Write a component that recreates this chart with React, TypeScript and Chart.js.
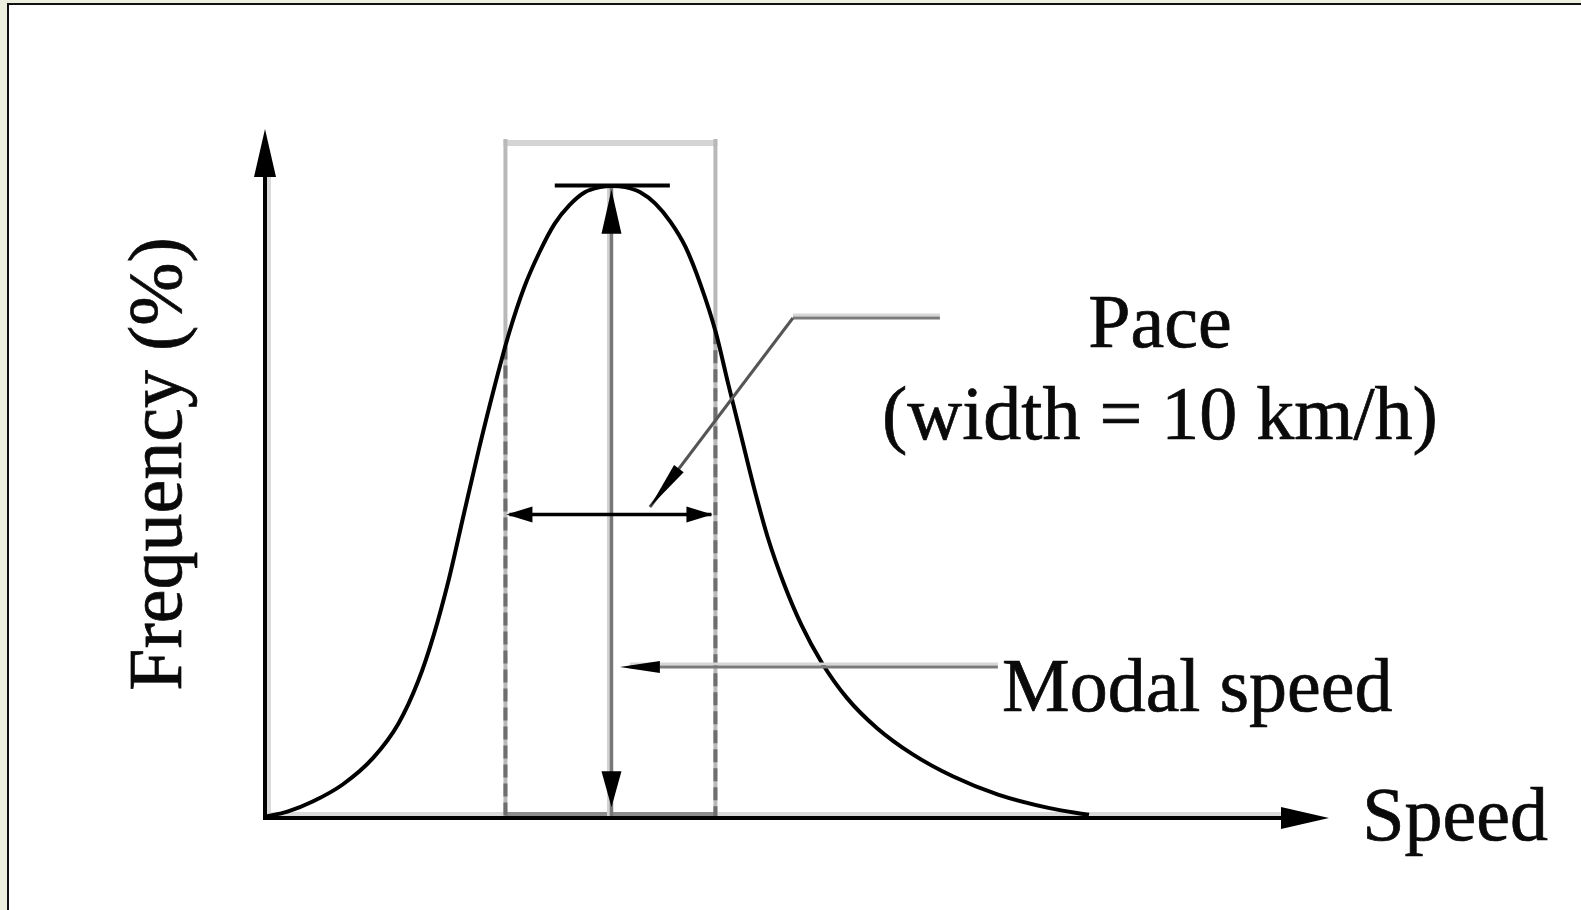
import React, { useEffect, useRef } from "react";
import { Chart, registerables } from "chart.js";

Chart.register(...registerables);

// Spot-speed distribution: speed (km/h) against frequency (%)
const speeds = [
  0.01, 1.07, 2.27, 3.7, 5.15, 6.35, 7.3, 8.03, 8.75, 9.47, 10.19, 10.91, 11.63,
  12.35, 13.07, 13.79, 14.51, 15.23, 15.95, 16.52, 17.15, 17.87, 18.59, 19.31,
  20.03, 20.75, 21.47, 22.05, 22.67, 23.3, 23.97, 24.73, 25.55, 26.51, 27.71,
  29.15, 30.83, 32.75, 34.91, 37.31, 39.24,
];
const frequencies = [
  0.02, 0.1, 0.26, 0.53, 0.95, 1.49, 2.17, 2.89, 3.77, 4.81, 5.84, 6.8, 7.68,
  8.4, 8.95, 9.4, 9.7, 9.9, 9.98, 10.0, 9.98, 9.9, 9.72, 9.43, 9.03, 8.43, 7.68,
  6.88, 6.05, 5.21, 4.41, 3.69, 3.05, 2.46, 1.9, 1.42, 1.01, 0.66, 0.37, 0.16,
  0.05,
];

// Pace: the 10 km/h band that holds the most vehicles
const paceStart = 11.45;
const paceWidth = 10;
const modalSpeed = 16.5;

// Axis extents
const speedAxisMax = 50.67;
const frequencyAxisMax = 10.9;

// Label texts
const paceLabel = ["Pace", "(width = 10 km/h)"];
const modalLabel = "Modal speed";
const xAxisTitle = "Speed";
const yAxisTitle = "Frequency (%)";

const FONT = '76px "Liberation Serif", "Times New Roman", serif';
const TEXT_COLOR = "#0a0a0a";

function arrowHead(
  ctx: CanvasRenderingContext2D,
  tx: number,
  ty: number,
  angle: number,
  len: number,
  half: number
) {
  const bx = tx - Math.cos(angle) * len;
  const by = ty - Math.sin(angle) * len;
  const nx = -Math.sin(angle);
  const ny = Math.cos(angle);
  ctx.beginPath();
  ctx.moveTo(tx, ty);
  ctx.lineTo(bx + nx * half, by + ny * half);
  ctx.lineTo(bx - nx * half, by - ny * half);
  ctx.closePath();
  ctx.fill();
}

function line(
  ctx: CanvasRenderingContext2D,
  x1: number,
  y1: number,
  x2: number,
  y2: number,
  color: string,
  width: number,
  dash: number[] = []
) {
  ctx.save();
  ctx.strokeStyle = color;
  ctx.lineWidth = width;
  ctx.setLineDash(dash);
  ctx.beginPath();
  ctx.moveTo(x1, y1);
  ctx.lineTo(x2, y2);
  ctx.stroke();
  ctx.restore();
}

function label(ctx: CanvasRenderingContext2D, text: string, x: number, y: number) {
  ctx.fillText(text, x, y);
  ctx.strokeText(text, x, y);
}

// frequency on the curve at a given speed (linear between samples)
function curveAt(s: number) {
  for (let i = 1; i < speeds.length; i++) {
    if (s <= speeds[i]) {
      const t = (s - speeds[i - 1]) / (speeds[i] - speeds[i - 1]);
      return frequencies[i - 1] + t * (frequencies[i] - frequencies[i - 1]);
    }
  }
  return 0;
}

const diagramPlugin = {
  id: "speedDiagram",
  beforeDraw(chart: any) {
    const { ctx, width, height } = chart;
    ctx.save();
    ctx.fillStyle = "#edf0de";
    ctx.fillRect(0, 0, width, height);
    ctx.fillStyle = "#ffffff";
    ctx.fillRect(8, 4, width - 8, height - 4);
    ctx.fillStyle = "#111111";
    ctx.fillRect(7, 3, width - 7, 2);
    ctx.fillRect(7, 3, 2, height - 3);
    ctx.restore();
  },
  beforeDatasetsDraw(chart: any) {
    const ctx: CanvasRenderingContext2D = chart.ctx;
    const X = (v: number) => chart.scales.x.getPixelForValue(v);
    const Y = (v: number) => chart.scales.y.getPixelForValue(v);
    const x0 = X(0);
    const y0 = Y(0);
    const pL = X(paceStart);
    const pR = X(paceStart + paceWidth);
    const boxTop = Y(10.74);
    const peak = Math.max(...frequencies);

    // axis shadows
    line(ctx, x0 + 4, Y(frequencyAxisMax) + 40, x0 + 4, y0, "#dadada", 4);
    line(ctx, x0, y0 - 4, X(speedAxisMax) - 40, y0 - 4, "#dadada", 4);

    // pace box
    line(ctx, pL - 2, boxTop + 4, pR + 2, boxTop + 4, "#d4d4d4", 6);
    line(ctx, pL, boxTop, pL, y0, "#b8b8b8", 4);
    line(ctx, pR, boxTop, pR, y0, "#b8b8b8", 4);
    line(ctx, pL, y0 - 4, pR, y0 - 4, "#8c8c8c", 4);

    // dashed pace limits below the curve
    line(ctx, pL, Y(curveAt(paceStart)), pL, y0, "#6e6e6e", 4, [13, 6]);
    line(ctx, pR, Y(curveAt(paceStart + paceWidth)), pR, y0, "#6e6e6e", 4, [13, 6]);

    // modal speed line
    const mx = X(modalSpeed);
    line(ctx, mx - 3, Y(peak), mx - 3, y0, "#d2d2d2", 3);
    line(ctx, mx, Y(peak), mx, y0, "#777777", 3.5);
  },
  afterDatasetsDraw(chart: any) {
    const ctx: CanvasRenderingContext2D = chart.ctx;
    const X = (v: number) => chart.scales.x.getPixelForValue(v);
    const Y = (v: number) => chart.scales.y.getPixelForValue(v);
    const x0 = X(0);
    const y0 = Y(0);
    const peak = Math.max(...frequencies);
    const peakSpeed = speeds[frequencies.indexOf(peak)];

    ctx.save();
    ctx.fillStyle = "#000";

    // axes
    const yTop = Y(frequencyAxisMax);
    const xEnd = X(speedAxisMax);
    line(ctx, x0, y0 + 2, x0, yTop + 40, "#000", 4);
    line(ctx, x0 - 2, y0, xEnd - 40, y0, "#000", 4);
    arrowHead(ctx, x0, yTop, -Math.PI / 2, 48, 11);
    arrowHead(ctx, xEnd, y0, 0, 48, 11);

    // peak marker
    line(ctx, X(peakSpeed - 2.72), Y(peak) - 0.5, X(peakSpeed + 2.76), Y(peak) - 0.5, "#000", 4);

    // modal speed arrows
    const mx = X(modalSpeed);
    arrowHead(ctx, mx, Y(9.94), -Math.PI / 2, 44, 10);
    arrowHead(ctx, mx, Y(0.17), Math.PI / 2, 36, 10);

    // pace width arrow
    const pL = X(paceStart);
    const pR = X(paceStart + paceWidth);
    const pyA = Y(4.8);
    line(ctx, pL + 4, pyA, pR - 4, pyA, "#000", 3.5);
    arrowHead(ctx, pL + 1, pyA, Math.PI, 26, 8);
    arrowHead(ctx, pR - 3, pyA, 0, 26, 8);

    // pace leader
    const lx1 = X(32.14), ly = Y(7.91), lx2 = X(25.14);
    const tipX = X(18.33), tipY = Y(4.92);
    line(ctx, lx2, ly - 3, lx1, ly - 3, "#d6d6d6", 3);
    line(ctx, lx2, ly, lx1, ly, "#7a7a7a", 3);
    line(ctx, lx2, ly, tipX, tipY, "#555555", 3);
    const ang = Math.atan2(tipY - ly, tipX - lx2);
    arrowHead(ctx, tipX, tipY, ang, 48, 6);

    // modal speed leader
    const my = Y(2.39);
    const mTip = X(16.9);
    line(ctx, mTip + 10, my - 3, X(34.9), my - 3, "#d6d6d6", 3);
    line(ctx, mTip + 10, my, X(34.9), my, "#7a7a7a", 3);
    arrowHead(ctx, mTip, my, Math.PI, 40, 6);

    // labels
    ctx.font = FONT;
    ctx.fillStyle = TEXT_COLOR;
    ctx.strokeStyle = TEXT_COLOR;
    ctx.lineWidth = 0.7;
    ctx.textBaseline = "alphabetic";
    ctx.textAlign = "center";
    label(ctx, paceLabel[0], X(42.62), Y(7.45));
    label(ctx, paceLabel[1], X(42.62), Y(6.0));
    ctx.textAlign = "left";
    label(ctx, modalLabel, X(35.1), Y(1.69));
    label(ctx, xAxisTitle, X(52.25), Y(-0.35));

    ctx.save();
    ctx.translate(X(-4.0), Y(5.6));
    ctx.rotate(-Math.PI / 2);
    ctx.textAlign = "center";
    label(ctx, yAxisTitle, 0, 0);
    ctx.restore();

    ctx.restore();
  },
};

export default function App() {
  const canvasRef = useRef<HTMLCanvasElement | null>(null);

  useEffect(() => {
    const canvas = canvasRef.current;
    if (!canvas) return;
    const chart = new Chart(canvas, {
      type: "line",
      data: {
        datasets: [
          {
            data: speeds.map((s, i) => ({ x: s, y: frequencies[i] })),
            borderColor: "#000",
            borderWidth: 4,
            pointRadius: 0,
            fill: false,
            cubicInterpolationMode: "monotone",
          },
        ],
      },
      options: {
        responsive: false,
        animation: false,
        events: [],
        layout: { padding: { left: 265, right: 252, top: 129, bottom: 92 } },
        scales: {
          x: { type: "linear", min: 0, max: speedAxisMax, display: false },
          y: { type: "linear", min: 0, max: frequencyAxisMax, display: false },
        },
        plugins: { legend: { display: false }, tooltip: { enabled: false } },
      },
      plugins: [diagramPlugin],
    } as any);
    return () => chart.destroy();
  }, []);

  return (
    <div style={{ position: "fixed", left: 0, top: 0, width: 1581, height: 910 }}>
      <canvas ref={canvasRef} width={1581} height={910} style={{ display: "block" }} />
    </div>
  );
}
